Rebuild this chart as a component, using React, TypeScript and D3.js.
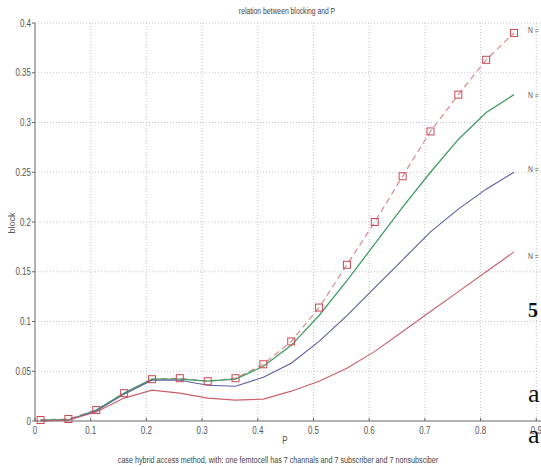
import * as d3 from "d3";

const width = 541;
const height = 467;

// P values (x) at which every curve was sampled
const pValues = [0.01, 0.06, 0.11, 0.16, 0.21, 0.26, 0.31, 0.36, 0.41, 0.46, 0.51, 0.56, 0.61, 0.66, 0.71, 0.76, 0.81, 0.86];

const blockN6 = [0.001, 0.002, 0.011, 0.028, 0.042, 0.043, 0.040, 0.043, 0.057, 0.080, 0.114, 0.157, 0.200, 0.246, 0.291, 0.328, 0.363, 0.390];
const blockN5 = [0.001, 0.001, 0.011, 0.028, 0.042, 0.042, 0.040, 0.042, 0.055, 0.076, 0.106, 0.141, 0.178, 0.215, 0.250, 0.283, 0.310, 0.328];
const blockN4 = [0.0, 0.001, 0.010, 0.027, 0.041, 0.041, 0.036, 0.035, 0.044, 0.058, 0.080, 0.106, 0.134, 0.162, 0.190, 0.213, 0.233, 0.250];
const blockN3 = [0.0, 0.001, 0.009, 0.023, 0.031, 0.028, 0.023, 0.021, 0.022, 0.030, 0.040, 0.053, 0.070, 0.090, 0.110, 0.130, 0.150, 0.170];

const seriesLabels = ["N = 6", "N = 5", "N = 4", "N = 3"];
const xTicks = [0, 0.1, 0.2, 0.3, 0.4, 0.5, 0.6, 0.7, 0.8, 0.9];
const yTicks = [0, 0.05, 0.1, 0.15, 0.2, 0.25, 0.3, 0.35, 0.4];

const font = "'Liberation Sans', Arial, sans-serif";

// matlab's export uses a narrow helvetica, squeeze the text horizontally
function Narrow(props: { x: number; y: number; anchor?: string; size: number; fill?: string; children: any }) {
  return (
    <text
      transform={`translate(${props.x},${props.y}) scale(0.8,1)`}
      textAnchor={props.anchor || "start"}
      fontSize={props.size}
      fill={props.fill || "#555"}
    >
      {props.children}
    </text>
  );
}

export default function App() {
  const x = d3.scaleLinear().domain([0, 1]).range([35, 592]);
  const y = d3.scaleLinear().domain([0, 0.4]).range([421, 23]);

  const lineGen = d3
    .line<number>()
    .x((_, i) => x(pValues[i]))
    .y((v) => y(v));

  const series = [
    { values: blockN6, color: "#d98a90", dash: "6,4", width: 1.2 },
    { values: blockN5, color: "#3f9c62", dash: "", width: 1.3 },
    { values: blockN4, color: "#5b5f9e", dash: "", width: 1.1 },
    { values: blockN3, color: "#c8606c", dash: "", width: 1.1 },
  ];

  const last = pValues.length - 1;
  const labelOffsets = [-3, 0, -3, 4];

  return (
    <svg
      width={width}
      height={height}
      style={{ position: "fixed", left: 0, top: 0, background: "#fff" }}
      fontFamily={font}
    >
      <rect x={0} y={0} width={width} height={height} fill="#fff" />

      {/* grid */}
      {xTicks.slice(1).map((t) => (
        <line key={"gx" + t} x1={x(t)} x2={x(t)} y1={y(0.4)} y2={y(0)} stroke="#b8b8b8" strokeWidth={0.8} strokeDasharray="1,2" />
      ))}
      {yTicks.slice(1).map((t) => (
        <line key={"gy" + t} x1={x(0)} x2={width} y1={y(t)} y2={y(t)} stroke="#b8b8b8" strokeWidth={0.8} strokeDasharray="1,2" />
      ))}

      {/* axes */}
      <line x1={x(0)} x2={x(0)} y1={y(0.4)} y2={y(0)} stroke="#666" strokeWidth={1} />
      <line x1={x(0)} x2={width} y1={y(0)} y2={y(0)} stroke="#666" strokeWidth={1} />
      {yTicks.map((t) => (
        <g key={"yt" + t}>
          <line x1={x(0) - 3} x2={x(0)} y1={y(t)} y2={y(t)} stroke="#666" />
          <Narrow x={x(0) - 4} y={y(t) + 3.5} anchor="end" size={10}>
            {t}
          </Narrow>
        </g>
      ))}
      {xTicks.map((t) => (
        <g key={"xt" + t}>
          <line x1={x(t)} x2={x(t)} y1={y(0)} y2={y(0) - 3} stroke="#666" />
          <Narrow x={x(t)} y={y(0) + 13} anchor="middle" size={10}>
            {t}
          </Narrow>
        </g>
      ))}

      {/* series */}
      {series.map((s, i) => (
        <path
          key={"s" + i}
          d={lineGen(s.values) || ""}
          fill="none"
          stroke={s.color}
          strokeWidth={s.width}
          strokeDasharray={s.dash || undefined}
        />
      ))}
      {blockN6.map((v, i) => (
        <rect
          key={"m" + i}
          x={x(pValues[i]) - 3.5}
          y={y(v) - 3.5}
          width={7}
          height={7}
          fill="none"
          stroke="#c84a55"
          strokeWidth={1}
        />
      ))}

      {/* series labels */}
      {series.map((s, i) => (
        <Narrow key={"l" + i} x={x(pValues[last]) + 14} y={y(s.values[last]) + labelOffsets[i] + 3} size={8.5}>
          {seriesLabels[i]}
        </Narrow>
      ))}

      {/* titles */}
      <Narrow x={287} y={14} anchor="middle" size={8.5} fill="#444">
        relation between blocking and P
      </Narrow>
      <Narrow x={285} y={444} anchor="middle" size={10}>
        P
      </Narrow>
      <text transform="translate(15,223) rotate(-90)" textAnchor="middle" fontSize={9} fill="#555">
        block
      </text>
      <Narrow x={278} y={463} anchor="middle" size={9} fill="#444">
        case hybrid access method, with: one femtocell has 7 channals and 7 subscriber and 7 nonsubsciber
      </Narrow>

      {/* page text bleeding in from the right */}
      <g fontFamily="'Liberation Serif', 'DejaVu Serif', serif" fill="#111">
        <text x={528} y={317} fontSize={20} fontWeight="bold">5</text>
        <text x={528} y={402} fontSize={26}>a</text>
        <text x={528} y={443} fontSize={26}>a</text>
      </g>
    </svg>
  );
}
